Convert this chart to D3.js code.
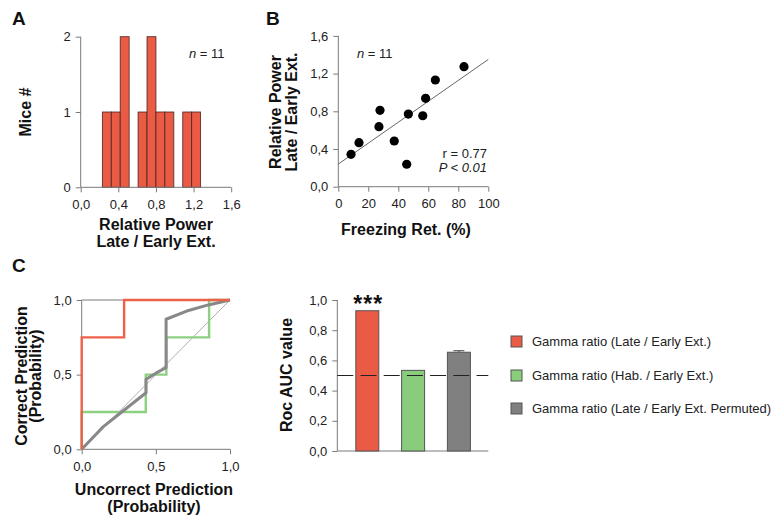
<!DOCTYPE html>
<html><head><meta charset="utf-8">
<script src="https://cdn.jsdelivr.net/npm/d3@7"></script>
<style>
body{margin:0;background:#fff;}
svg{display:block;font-family:"Liberation Sans",Arial,sans-serif;}
</style></head>
<body>
<svg id="chart" width="777" height="524"></svg>
<script>
// ---------- DATA ----------
// Panel A: histogram of relative power (bin edges + counts)
const histEdges = [0.23,0.325,0.42,0.515,0.61,0.705,0.80,0.895,0.99,1.085,1.18,1.275];
const histCounts = [1,1,2,0,1,2,1,1,0,1,1];
const histXTicks = [0,0.4,0.8,1.2,1.6];
const histYTicks = [0,1,2];

// Panel B: scatter freezing vs relative power
const freezing = [8.5,13.8,27.1,27.8,37.3,45.6,46.7,56.3,58.2,64.7,83.8];
const relPower = [0.344,0.467,0.637,0.81,0.485,0.238,0.771,0.753,0.938,1.132,1.273];
const fitX = [0,100];
const fitY = [0.24,1.35];
const scatXTicks = [0,20,40,60,80,100];
const scatYTicks = [0,0.4,0.8,1.2,1.6];

// Panel C: ROC curves
const rocRedFPR = [0,0,0.286,0.286,1];
const rocRedTPR = [0,0.75,0.75,1,1];
const rocGreenFPR = [0,0,0.432,0.432,0.571,0.571,0.859,0.859,1];
const rocGreenTPR = [0,0.25,0.25,0.5,0.5,0.75,0.75,1,1];
const rocGrayFPR = [0,0.146,0.27,0.434,0.434,0.5,0.569,0.569,0.708,0.854,1];
const rocGrayTPR = [0,0.152,0.25,0.379,0.469,0.51,0.547,0.871,0.926,0.967,1];
const rocTicks = [0,0.5,1];

// Panel C: AUC bars
const aucCategories = ["Gamma ratio (Late / Early Ext.)","Gamma ratio (Hab. / Early Ext.)","Gamma ratio (Late / Early Ext. Permuted)"];
const aucValues = [0.929,0.534,0.654];
const aucErrors = [0,0,0.01];
const aucColors = ["#EA5B45","#88CC7C","#808080"];
const aucYTicks = [0,0.2,0.4,0.6,0.8,1.0];
const chanceLevel = 0.5;

// ---------- DRAW ----------
const svg = d3.select("#chart");
const fmt1 = d => d.toFixed(1).replace(".", ",");
const AX = "#7a7a7a";
const TXT = "#222";

function styleAxis(g){
  g.select(".domain").remove();
  g.selectAll(".tick line").attr("stroke", AX);
  g.selectAll(".tick text").attr("fill", TXT).style("font-size","13px").style("font-family",'"Liberation Sans",Arial,sans-serif');
}
function hline(x1,x2,y){ svg.append("line").attr("x1",x1).attr("x2",x2).attr("y1",y).attr("y2",y).attr("stroke",AX).attr("stroke-width",1); }
function vline(x,y1,y2){ svg.append("line").attr("x1",x).attr("x2",x).attr("y1",y1).attr("y2",y2).attr("stroke",AX).attr("stroke-width",1); }
function label(txt,x,y,opts={}){
  const t = svg.append("text").attr("x",x).attr("y",y).text(txt)
    .attr("fill", opts.fill||"#111")
    .style("font-size",(opts.size||16)+"px")
    .style("font-weight",opts.weight||"bold")
    .attr("text-anchor",opts.anchor||"middle");
  if(opts.rotate) t.attr("transform",`rotate(-90,${x},${y})`);
  if(opts.italic) t.style("font-style","italic");
  return t;
}

// Panel letters
label("A",12,25,{size:19,anchor:"start"});
label("B",266,25,{size:19,anchor:"start"});
label("C",12,272,{size:19,anchor:"start"});

// ----- Panel A -----
{
  const x = d3.scaleLinear().domain([0,1.6]).range([80.7,231.2]);
  const y = d3.scaleLinear().domain([0,2]).range([187.3,36.7]);
  const bins = histCounts.map((c,i)=>({x0:histEdges[i],x1:histEdges[i+1],c})).filter(b=>b.c>0);
  svg.append("g").selectAll("rect").data(bins).join("rect")
    .attr("x",d=>x(d.x0)).attr("width",d=>x(d.x1)-x(d.x0))
    .attr("y",d=>y(d.c)).attr("height",d=>y(0)-y(d.c))
    .attr("fill","#EA5B45").attr("stroke","#4a2520").attr("stroke-width",0.8);
  vline(x(0),y(2),y(0)); hline(x(0),x(1.6),y(0));
  svg.append("g").attr("transform",`translate(${x(0)},0)`)
    .call(d3.axisLeft(y).tickValues(histYTicks).tickSize(5).tickPadding(5).tickFormat(d3.format("d"))).call(styleAxis);
  svg.append("g").attr("transform",`translate(0,${y(0)})`)
    .call(d3.axisBottom(x).tickValues(histXTicks).tickSize(5).tickPadding(7).tickFormat(fmt1)).call(styleAxis);
  label("Mice #",31,112,{rotate:true});
  label("Relative Power",156,230);
  label("Late / Early Ext.",156,247);
  const n = svg.append("text").attr("x",189).attr("y",58).style("font-size","13px").attr("fill",TXT);
  n.append("tspan").text("n").style("font-style","italic");
  n.append("tspan").text(" = 11");
}

// ----- Panel B -----
{
  const x = d3.scaleLinear().domain([0,100]).range([338.3,488.3]);
  const y = d3.scaleLinear().domain([0,1.6]).range([186.7,35.9]);
  vline(x(0),y(1.6),y(0)); hline(x(0),x(100),y(0));
  svg.append("g").attr("transform",`translate(${x(0)},0)`)
    .call(d3.axisLeft(y).tickValues(scatYTicks).tickSize(5).tickPadding(5).tickFormat(fmt1)).call(styleAxis);
  svg.append("g").attr("transform",`translate(0,${y(0)})`)
    .call(d3.axisBottom(x).tickValues(scatXTicks).tickSize(5).tickPadding(7).tickFormat(d3.format("d"))).call(styleAxis);
  svg.append("line").attr("x1",x(fitX[0])).attr("y1",y(fitY[0])).attr("x2",x(fitX[1])).attr("y2",y(fitY[1]))
    .attr("stroke","#555").attr("stroke-width",0.9);
  svg.append("g").selectAll("circle").data(freezing.map((f,i)=>[f,relPower[i]])).join("circle")
    .attr("cx",d=>x(d[0])).attr("cy",d=>y(d[1])).attr("r",4.6).attr("fill","#000");
  label("Relative Power",281,112,{rotate:true});
  label("Late / Early Ext.",297,112,{rotate:true});
  label("Freezing Ret. (%)",406,235);
  const n = svg.append("text").attr("x",357).attr("y",58).style("font-size","13px").attr("fill",TXT);
  n.append("tspan").text("n").style("font-style","italic");
  n.append("tspan").text(" = 11");
  svg.append("text").attr("x",487).attr("y",158).attr("text-anchor","end").style("font-size","13px").attr("fill",TXT).text("r = 0.77");
  const p = svg.append("text").attr("x",487).attr("y",172).attr("text-anchor","end").style("font-size","13px").attr("fill",TXT).style("font-style","italic");
  p.text("P < 0.01");
}

// ----- Panel C: ROC -----
{
  const x = d3.scaleLinear().domain([0,1]).range([81.7,230]);
  const y = d3.scaleLinear().domain([0,1]).range([449.3,300]);
  vline(x(0),y(1),y(0)); hline(x(0),x(1),y(0)); hline(x(0),x(1),y(1));
  svg.append("g").attr("transform",`translate(${x(0)},0)`)
    .call(d3.axisLeft(y).tickValues(rocTicks).tickSize(5).tickPadding(5).tickFormat(fmt1)).call(styleAxis);
  svg.append("g").attr("transform",`translate(0,${y(0)})`)
    .call(d3.axisBottom(x).tickValues(rocTicks).tickSize(5).tickPadding(7).tickFormat(fmt1)).call(styleAxis);
  const line = d3.line().x(d=>x(d[0])).y(d=>y(d[1]));
  svg.append("path").attr("d",line([[0,0],[1,1]])).attr("stroke","#999").attr("stroke-width",0.8).attr("fill","none");
  svg.append("path").attr("d",line(rocGreenFPR.map((f,i)=>[f,rocGreenTPR[i]])))
    .attr("stroke","#8DD081").attr("stroke-width",2.4).attr("fill","none");
  svg.append("path").attr("d",line(rocGrayFPR.map((f,i)=>[f,rocGrayTPR[i]])))
    .attr("stroke","#888").attr("stroke-width",3).attr("fill","none").attr("stroke-linejoin","round");
  svg.append("path").attr("d",line(rocRedFPR.map((f,i)=>[f,rocRedTPR[i]])))
    .attr("stroke","#EE6149").attr("stroke-width",2.4).attr("fill","none");
  label("Correct Prediction",27,376,{rotate:true});
  label("(Probability)",41,376,{rotate:true});
  label("Uncorrect Prediction",154,495);
  label("(Probability)",154,512);
}

// ----- Panel C: AUC bars -----
{
  const y = d3.scaleLinear().domain([0,1]).range([451,300]);
  const x = d3.scaleBand().domain(aucCategories).range([344.4,481.8]).paddingInner(0.498).paddingOuter(0.249);
  vline(337.3,y(1),y(0)); hline(337.3,488.3,y(0));
  svg.append("g").attr("transform",`translate(337.3,0)`)
    .call(d3.axisLeft(y).tickValues(aucYTicks).tickSize(5).tickPadding(5).tickFormat(fmt1)).call(styleAxis);
  svg.append("g").selectAll("rect").data(aucCategories).join("rect")
    .attr("x",d=>x(d)).attr("width",x.bandwidth())
    .attr("y",(d,i)=>y(aucValues[i])).attr("height",(d,i)=>y(0)-y(aucValues[i]))
    .attr("fill",(d,i)=>aucColors[i]).attr("stroke","#555").attr("stroke-width",1);
  aucCategories.forEach((c,i)=>{
    if(aucErrors[i]>0){
      const cx = x(c)+x.bandwidth()/2;
      svg.append("line").attr("x1",cx).attr("x2",cx).attr("y1",y(aucValues[i])).attr("y2",y(aucValues[i]+aucErrors[i])).attr("stroke","#444");
      svg.append("line").attr("x1",cx-5.5).attr("x2",cx+5.5).attr("y1",y(aucValues[i]+aucErrors[i])).attr("y2",y(aucValues[i]+aucErrors[i])).attr("stroke","#444");
    }
  });
  svg.append("line").attr("x1",337.3).attr("x2",488.3).attr("y1",y(chanceLevel)).attr("y2",y(chanceLevel))
    .attr("stroke","#222").attr("stroke-width",1).attr("stroke-dasharray","16,7.2");
  label("***",x(aucCategories[0])+x.bandwidth()/2+1,312,{size:23}).style("letter-spacing","1px");
  label("Roc AUC value",292,375,{rotate:true});

  // Legend
  const lg = svg.append("g");
  aucCategories.forEach((c,i)=>{
    const yy = [336,370,403][i];
    lg.append("rect").attr("x",511).attr("y",yy).attr("width",11).attr("height",11)
      .attr("fill",aucColors[i]).attr("stroke","#555").attr("stroke-width",1);
    lg.append("text").attr("x",532).attr("y",yy+9.5).text(c).style("font-size","13px").attr("fill",TXT);
  });
}
</script>
</body></html>
